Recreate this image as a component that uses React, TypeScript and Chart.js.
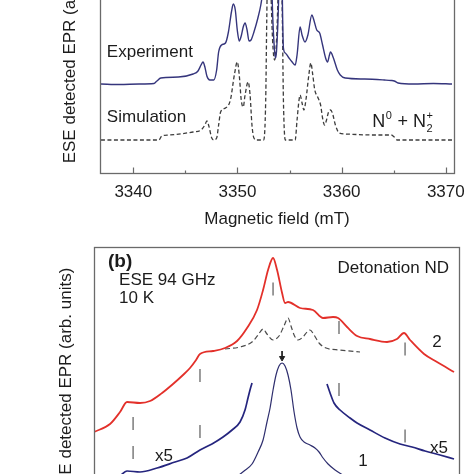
import React, { useEffect, useRef } from 'react';
import { Chart, registerables } from 'chart.js';

Chart.register(...registerables);

const FONT = '"Liberation Sans", Arial, Helvetica, sans-serif';
const INK = '#1c1c1c';

// ---------- Panel (a): X-band spectra, field in mT ----------
const tickFieldsA = [3340, 3350, 3360, 3370];
const minorFieldsA = [3345, 3355, 3365];

const expField = [3336.89, 3338.68, 3340.56, 3341.98, 3342.26, 3342.64, 3344.33, 3345.74, 3346.21, 3346.5, 3346.69, 3346.87, 3347.06, 3347.34, 3347.72, 3348.0, 3348.19, 3348.47, 3348.85, 3349.13, 3349.42, 3349.6, 3349.79, 3349.98, 3350.17, 3350.36, 3350.55, 3350.73, 3350.92, 3351.11, 3351.3, 3351.58, 3351.96, 3352.24, 3352.52, 3352.81, 3352.99, 3353.18, 3353.37, 3353.56, 3353.65, 3353.75, 3353.94, 3354.12, 3354.22, 3354.41, 3354.59, 3354.88, 3355.25, 3355.54, 3355.72, 3356.01, 3356.2, 3356.48, 3356.76, 3357.14, 3357.33, 3357.61, 3357.89, 3358.17, 3358.46, 3358.64, 3358.83, 3358.93, 3359.21, 3359.59, 3359.87, 3360.34, 3362.22, 3364.11, 3364.76, 3365.05, 3365.42, 3366.93, 3368.81, 3370.6];
const expSignal = [89, 88.5, 89, 89.5, 92, 95, 96, 99, 102, 108, 111, 106, 97, 93, 93, 103, 121, 128, 130, 141, 161, 169, 163, 143, 132, 137, 146, 150, 143, 132, 133, 141, 155, 168, 188, 225, 262, 230, 160, 122, 115, 122, 170, 262, 230, 125, 120, 116, 111, 108, 118, 146, 138, 131, 138, 158, 153, 143, 140, 128, 115, 111, 118, 121, 115, 103, 98, 95, 94, 93, 92.5, 92, 90, 89, 89.5, 89];

const simField = [3336.89, 3342.45, 3342.73, 3343.39, 3345.74, 3346.5, 3346.87, 3347.06, 3347.25, 3347.53, 3347.72, 3348.0, 3348.19, 3348.38, 3348.85, 3349.32, 3349.7, 3349.98, 3350.17, 3350.36, 3350.55, 3350.73, 3351.02, 3351.21, 3351.39, 3351.58, 3351.86, 3352.52, 3352.71, 3352.81, 3352.99, 3353.18, 3353.37, 3353.56, 3353.75, 3353.94, 3354.12, 3354.31, 3354.41, 3354.59, 3355.54, 3355.72, 3355.91, 3356.01, 3356.2, 3356.38, 3356.57, 3356.85, 3357.04, 3357.23, 3357.42, 3357.7, 3357.98, 3358.17, 3358.36, 3358.55, 3358.74, 3358.93, 3359.11, 3359.4, 3359.77, 3360.34, 3363.16, 3364.76, 3365.05, 3365.33, 3370.6];
const simSignal = [33, 33, 37, 38, 41, 43, 48, 52, 47, 35, 33, 35, 48, 61, 65, 73, 98, 111, 98, 73, 66, 78, 91, 78, 48, 35, 33, 33, 73, 153, 262, 193, 133, 113, 133, 193, 262, 153, 73, 33, 33, 53, 73, 78, 70, 63, 73, 98, 110, 98, 83, 76, 68, 55, 48, 53, 61, 63, 60, 48, 40, 39, 38, 38, 36, 33, 33];

// ---------- Panel (b): ESE 94 GHz, 10 K, detonation ND ----------
const redField = [3336.23, 3337.74, 3338.68, 3339.34, 3340.56, 3341.51, 3342.64, 3343.67, 3344.61, 3345.27, 3345.84, 3346.21, 3347.44, 3348.57, 3349.7, 3350.64, 3351.58, 3352.15, 3352.62, 3353.09, 3353.47, 3353.94, 3354.22, 3354.5, 3355.63, 3356.85, 3357.8, 3358.74, 3359.21, 3360.06, 3361.0, 3362.22, 3363.82, 3364.76, 3365.42, 3365.99, 3367.31, 3368.53, 3370.13];
const redSignal = [86, 94, 106, 116, 115, 117, 125, 134, 143, 150, 158, 164, 167, 170, 177, 190, 208, 228, 248, 260, 248, 225, 215, 216, 210, 208, 200, 201, 200, 191, 182, 179, 176, 179, 185, 178, 164, 156, 146];

const dashField = [3348.57, 3349.98, 3351.11, 3351.68, 3352.15, 3352.52, 3353.09, 3353.65, 3354.12, 3354.5, 3354.78, 3355.07, 3355.44, 3355.91, 3356.29, 3356.57, 3356.95, 3357.42, 3358.08, 3359.4, 3361.28];
const dashSignal = [169, 171, 176, 183, 189, 184, 178, 182, 192, 200, 192, 183, 178, 181, 186, 188, 183, 175, 170, 168, 166];

const wingLField = [3338.68, 3339.34, 3340.56, 3342.17, 3343.86, 3344.99, 3346.21, 3347.34, 3348.38, 3349.23, 3349.98, 3350.45, 3350.73, 3350.92, 3351.11];
const wingLSignal = [42, 47, 46, 50, 56, 60, 68, 74, 81, 88, 96, 108, 120, 128, 135];

const wingRField = [3358.17, 3358.46, 3358.83, 3359.4, 3360.34, 3361.0, 3362.22, 3363.63, 3365.05, 3366.18, 3367.4, 3368.81, 3370.13];
const wingRSignal = [134, 125, 115, 108, 100, 95, 88, 80, 74, 71, 67, 63, 59];

const centerField = [3349.51, 3350.36, 3351.11, 3351.68, 3352.15, 3352.52, 3352.81, 3353.09, 3353.37, 3353.65, 3353.94, 3354.22, 3354.5, 3354.78, 3355.07, 3355.35, 3355.63, 3356.01, 3356.57, 3357.04, 3357.42, 3357.8, 3358.27, 3358.93, 3359.68];
const centerSignal = [40, 47, 54, 66, 78, 96, 110, 128, 143, 152, 155, 152, 143, 128, 106, 90, 81, 76, 73, 70, 66, 60, 54, 48, 43];

const markerField = [3339.91, 3339.91, 3346.21, 3346.21, 3353.09, 3359.3, 3359.3, 3365.52, 3365.52];
const markerSignal = [94.5, 65.5, 142.5, 86.5, 229, 190.5, 128.5, 169, 82];

const arrowField = [3353.94, 3353.94];
const arrowSignal = [167, 162];
const arrowHeadSignal = [160];

const pts = (xs: number[], ys: number[]) => xs.map((x, i) => ({ x, y: ys[i] }));

type TextItem = {
  text: string;
  x: number;
  y: number;
  align?: CanvasTextAlign;
  size?: number;
  bold?: boolean;
  chem?: boolean;
};

function makeExtras(cfg: { texts: TextItem[]; major?: number[]; minor?: number[] }) {
  return {
    id: 'extras',
    afterDatasetsDraw(chart: any) {
      const { ctx, chartArea: a, scales } = chart;
      const xs = scales.x;
      const ys = scales.y;
      ctx.save();
      // frame
      ctx.strokeStyle = '#6a6a6a';
      ctx.lineWidth = 1.3;
      ctx.strokeRect(
        Math.round(a.left) + 0.5,
        Math.round(a.top) + 0.5,
        Math.round(a.right - a.left),
        Math.round(a.bottom - a.top)
      );
      // inward ticks on bottom axis
      const b = Math.round(a.bottom) + 0.5;
      ctx.lineWidth = 1.2;
      (cfg.major || []).forEach((v) => {
        const px = Math.round(xs.getPixelForValue(v)) + 0.5;
        ctx.beginPath();
        ctx.moveTo(px, b);
        ctx.lineTo(px, b - 6);
        ctx.stroke();
      });
      (cfg.minor || []).forEach((v) => {
        const px = Math.round(xs.getPixelForValue(v)) + 0.5;
        ctx.beginPath();
        ctx.moveTo(px, b);
        ctx.lineTo(px, b - 3);
        ctx.stroke();
      });
      // texts
      ctx.fillStyle = INK;
      ctx.textBaseline = 'middle';
      cfg.texts.forEach((t) => {
        const X = xs.getPixelForValue(t.x);
        const Y = ys.getPixelForValue(t.y);
        const size = t.size || 17;
        if (t.chem) {
          ctx.textAlign = 'left';
          let px = X;
          ctx.font = `${size}px ${FONT}`;
          ctx.fillText('N', px, Y);
          px += ctx.measureText('N').width;
          ctx.font = `11px ${FONT}`;
          ctx.fillText('0', px + 0.5, Y - 7);
          px += ctx.measureText('0').width + 1;
          ctx.font = `${size}px ${FONT}`;
          ctx.fillText(' + N', px, Y);
          px += ctx.measureText(' + N').width;
          ctx.font = `11px ${FONT}`;
          ctx.fillText('2', px + 0.5, Y + 6);
          ctx.fillText('+', px + 0.5, Y - 7);
          return;
        }
        ctx.textAlign = t.align || 'left';
        ctx.font = `${t.bold ? 'bold ' : ''}${size}px ${FONT}`;
        ctx.fillText(t.text, X, Y);
      });
      ctx.restore();
    },
  };
}

const textsA: TextItem[] = [
  { text: 'Experiment', x: 3337.46, y: 121 },
  { text: 'Simulation', x: 3337.46, y: 56 },
  { text: 'N0 + N2+', x: 3362.95, y: 50.5, chem: true, size: 18 },
];

const textsB: TextItem[] = [
  { text: '(b)', x: 3337.55, y: 256, bold: true, size: 19 },
  { text: 'ESE 94 GHz', x: 3338.59, y: 237.5 },
  { text: '10 K', x: 3338.59, y: 219.5 },
  { text: 'Detonation ND', x: 3369.66, y: 250, align: 'right' },
  { text: '2', x: 3368.53, y: 176, align: 'center' },
  { text: 'x5', x: 3368.72, y: 70, align: 'center' },
  { text: '1', x: 3361.56, y: 57, align: 'center' },
  { text: 'x5', x: 3342.82, y: 62, align: 'center' },
];

export default function App() {
  const refA = useRef<HTMLCanvasElement>(null);
  const refB = useRef<HTMLCanvasElement>(null);

  useEffect(() => {
    const lineBase = {
      pointRadius: 0,
      fill: false,
      cubicInterpolationMode: 'monotone' as const,
    };

    const chartA = new Chart(refA.current as HTMLCanvasElement, {
      type: 'line',
      data: {
        datasets: [
          { ...lineBase, data: pts(expField, expSignal), borderColor: '#35357c', borderWidth: 1.4 },
          { ...lineBase, data: pts(simField, simSignal), borderColor: '#3c3c3c', borderWidth: 1.3, borderDash: [4, 2.5] },
        ],
      },
      options: {
        responsive: false,
        animation: false,
        layout: { padding: { top: 14, right: 13, bottom: 0, left: 0 } },
        plugins: { legend: { display: false }, tooltip: { enabled: false } },
        scales: {
          x: {
            type: 'linear',
            min: 3336.8,
            max: 3370.79,
            grid: { display: false, drawTicks: false },
            border: { display: false },
            afterBuildTicks: (s: any) => {
              s.ticks = tickFieldsA.map((v) => ({ value: v }));
            },
            afterFit: (s: any) => {
              s.height = 77;
            },
            ticks: {
              padding: 9,
              color: INK,
              font: { family: FONT, size: 17 },
              maxRotation: 0,
              autoSkip: false,
              callback: (v: any) => String(v),
            },
            title: {
              display: true,
              text: 'Magnetic field (mT)',
              color: INK,
              font: { family: FONT, size: 17 },
              padding: { top: 0, bottom: 20 },
            },
          },
          y: {
            type: 'linear',
            min: 0,
            max: 249,
            grid: { display: false, drawTicks: false },
            border: { display: false },
            ticks: { display: false },
            afterFit: (s: any) => {
              s.width = 100;
            },
            title: {
              display: true,
              text: 'ESE detected EPR (arb. units)',
              color: INK,
              font: { family: FONT, size: 17 },
              padding: { top: 60, bottom: 0 },
            },
          },
        },
      } as any,
      plugins: [makeExtras({ texts: textsA, major: tickFieldsA, minor: minorFieldsA })],
    });

    const chartB = new Chart(refB.current as HTMLCanvasElement, {
      type: 'line',
      data: {
        datasets: [
          { ...lineBase, data: pts(redField, redSignal), borderColor: '#e3302a', borderWidth: 1.8 },
          { ...lineBase, data: pts(dashField, dashSignal), borderColor: '#4a4a4a', borderWidth: 1.2, borderDash: [5, 3] },
          { ...lineBase, data: pts(wingLField, wingLSignal), borderColor: '#25257e', borderWidth: 1.7 },
          { ...lineBase, data: pts(wingRField, wingRSignal), borderColor: '#25257e', borderWidth: 1.7 },
          { ...lineBase, data: pts(centerField, centerSignal), borderColor: '#2e2e6e', borderWidth: 1.2 },
          {
            data: pts(markerField, markerSignal),
            showLine: false,
            pointStyle: 'line',
            pointRotation: 90,
            pointRadius: 6.5,
            pointBorderColor: '#5a5a5a',
            pointBorderWidth: 1.2,
            borderColor: '#5a5a5a',
          },
          { data: pts(arrowField, arrowSignal), borderColor: '#222', borderWidth: 1, pointRadius: 0 },
          {
            data: pts([arrowField[1]], arrowHeadSignal),
            showLine: false,
            pointStyle: 'triangle',
            pointRotation: 180,
            pointRadius: 3,
            pointBackgroundColor: '#222',
            pointBorderColor: '#222',
            pointBorderWidth: 1,
          },
        ],
      },
      options: {
        responsive: false,
        animation: false,
        layout: { padding: { top: 10, right: 15, bottom: 19, left: 0 } },
        plugins: { legend: { display: false }, tooltip: { enabled: false } },
        scales: {
          x: {
            type: 'linear',
            display: false,
            min: 3336.23,
            max: 3370.6,
          },
          y: {
            type: 'linear',
            min: 0,
            max: 271,
            grid: { display: false, drawTicks: false },
            border: { display: false },
            ticks: { display: false },
            afterFit: (s: any) => {
              s.width = 94;
            },
            title: {
              display: true,
              text: 'ESE detected EPR (arb. units)',
              color: INK,
              font: { family: FONT, size: 17 },
              padding: { top: 56, bottom: 0 },
            },
          },
        },
      } as any,
      plugins: [makeExtras({ texts: textsB })],
    });

    return () => {
      chartA.destroy();
      chartB.destroy();
    };
  }, []);

  return (
    <div
      style={{
        position: 'fixed',
        left: 0,
        top: 0,
        width: 474,
        height: 474,
        overflow: 'hidden',
        background: '#ffffff',
      }}
    >
      <canvas
        ref={refA}
        width={474}
        height={340}
        style={{ position: 'absolute', left: 0, top: -90, width: 474, height: 340, display: 'block' }}
      />
      <canvas
        ref={refB}
        width={474}
        height={300}
        style={{ position: 'absolute', left: 0, top: 237, width: 474, height: 300, display: 'block' }}
      />
    </div>
  );
}
